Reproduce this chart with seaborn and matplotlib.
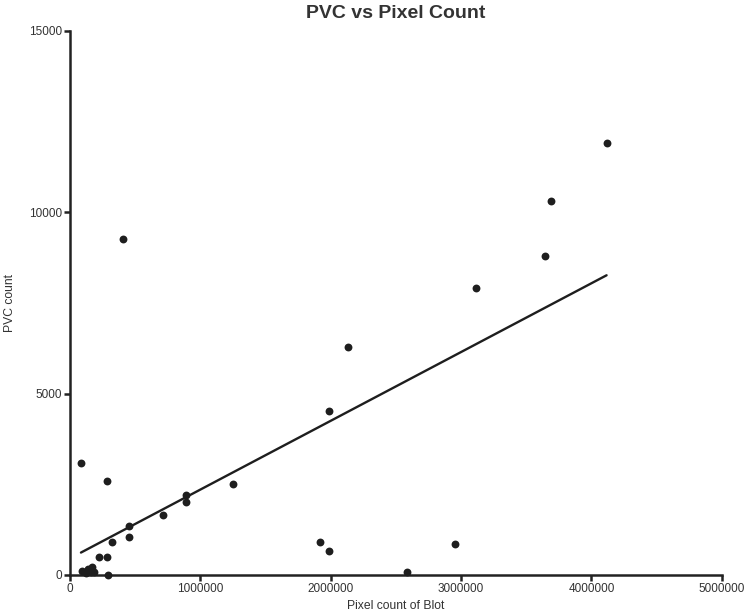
import matplotlib
matplotlib.use('Agg')
import matplotlib.pyplot as plt
import seaborn as sns
import pandas as pd

# Data
pixel_count = [84000, 90000, 120000, 140000, 158000, 166000, 184000, 225000, 281000,
               294000, 286000, 322000, 406000, 455000, 455000, 711000, 887000, 887000,
               1254000, 1917000, 1986000, 1984000, 2129000, 2582000, 2950000, 3115000,
               3645000, 3686000, 4116000]
pvc_count = [3094, 119, 63, 157, 91, 229, 74, 504, 504,
             8, 2598, 900, 9257, 1359, 1047, 1662, 2204, 2003,
             2507, 909, 652, 4510, 6290, 91, 846, 7911,
             8788, 10296, 11910]

x_ticks = [0, 1000000, 2000000, 3000000, 4000000, 5000000]
y_ticks = [0, 5000, 10000, 15000]

df = pd.DataFrame({'pixels': pixel_count, 'pvc': pvc_count})

sns.set_style('ticks')
plt.rcParams['font.family'] = ['Liberation Sans', 'DejaVu Sans']

fig = plt.figure(figsize=(7.48, 6.16), dpi=100)
ax = fig.add_axes([0.0936, 0.0666, 0.8714, 0.8838])

sns.regplot(data=df, x='pixels', y='pvc', ax=ax, ci=None, color='#1e1e1e',
            scatter_kws={'s': 32, 'clip_on': False, 'zorder': 3, 'linewidths': 0, 'alpha': 1},
            line_kws={'linewidth': 1.7, 'color': '#1e1e1e'})

ax.set_xlim(0, 5000000)
ax.set_ylim(0, 15000)
ax.set_xticks(x_ticks)
ax.set_yticks(y_ticks)
ax.set_xticklabels([str(t) for t in x_ticks])
ax.set_yticklabels([str(t) for t in y_ticks])
ax.tick_params(axis='both', labelsize=8.5, width=1.8, length=4, pad=1.5,
               color='#222222', labelcolor='#333333')

for side in ['top', 'right']:
    ax.spines[side].set_visible(False)
for side in ['left', 'bottom']:
    ax.spines[side].set_linewidth(1.8)
    ax.spines[side].set_color('#222222')

ax.set_xlabel('Pixel count of Blot', fontsize=8.7, color='#333333')
ax.set_ylabel('PVC count', fontsize=8.7, color='#333333')
ax.xaxis.set_label_coords(0.5, -0.046)
ax.yaxis.set_label_coords(-0.083, 0.5)
ax.set_title('PVC vs Pixel Count', fontsize=14, fontweight='bold', color='#333333', pad=9)

fig.savefig('out.png', dpi=100)
